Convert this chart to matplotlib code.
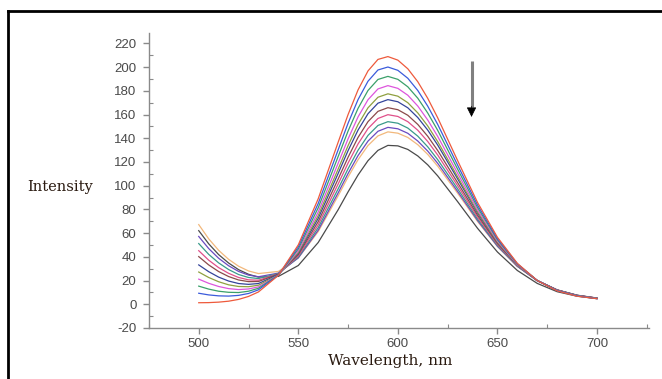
import matplotlib
matplotlib.use("Agg")
import matplotlib.pyplot as plt
from matplotlib.lines import Line2D
from matplotlib.ticker import MultipleLocator

plt.rcParams["axes.unicode_minus"] = False

# wavelength grid (nm) shared by every titration spectrum
wavelength = [500, 505, 510, 515, 520, 525, 530, 540, 550, 560, 570, 575, 580, 585,
              590, 595, 600, 605, 610, 615, 620, 630, 640, 650, 660, 670, 680, 690, 700]

# emission spectra (highest peak first)
spec_01 = [1.3, 1.4, 1.8, 2.6, 4.1, 6.6, 10.4, 24.4, 50.1, 89.0, 136.6, 160.0, 180.8, 196.8,
           206.5, 208.9, 205.9, 198.6, 187.7, 173.7, 157.3, 121.2, 85.9, 56.5, 34.5, 20.0, 11.3, 6.8, 4.7]
spec_02 = [9.3, 7.9, 7.1, 6.9, 7.5, 9.1, 12.2, 24.6, 48.4, 85.0, 130.2, 152.7, 172.6, 188.1,
           197.6, 200.1, 197.3, 190.6, 180.3, 167.1, 151.7, 117.4, 83.7, 55.4, 34.2, 20.0, 11.5, 7.0, 4.7]
spec_03 = [15.3, 12.8, 11.0, 10.1, 9.9, 11.0, 13.5, 24.6, 46.7, 81.4, 124.5, 146.1, 165.2, 180.3,
           189.6, 192.2, 189.7, 183.4, 173.8, 161.3, 146.7, 114.0, 81.7, 54.5, 33.9, 20.0, 11.6, 7.1, 4.8]
spec_04 = [21.2, 17.7, 15.0, 13.2, 12.4, 12.9, 14.7, 24.6, 45.1, 77.8, 118.9, 139.5, 158.0, 172.5,
           181.6, 184.4, 182.1, 176.3, 167.2, 155.4, 141.6, 110.6, 79.7, 53.5, 33.5, 19.9, 11.7, 7.2, 4.9]
spec_05 = [27.2, 22.6, 19.0, 16.4, 15.0, 14.8, 16.1, 24.7, 43.8, 74.8, 114.0, 133.8, 151.6, 165.7,
           174.6, 177.5, 175.5, 170.0, 161.4, 150.4, 137.2, 107.6, 78.0, 52.6, 33.3, 19.9, 11.8, 7.3, 5.0]
spec_06 = [33.2, 27.5, 22.9, 19.6, 17.5, 16.8, 17.5, 25.1, 43.0, 72.5, 110.3, 129.6, 146.9, 160.7,
           169.6, 172.6, 170.8, 165.7, 157.5, 146.9, 134.3, 105.8, 77.0, 52.3, 33.3, 20.1, 11.9, 7.4, 5.1]
spec_07 = [40.2, 33.2, 27.6, 23.4, 20.5, 19.1, 19.2, 25.5, 41.9, 69.7, 105.6, 124.0, 140.7, 154.0,
           162.7, 165.8, 164.1, 159.4, 151.7, 141.7, 129.7, 102.6, 75.2, 51.3, 32.9, 20.0, 12.0, 7.5, 5.1]
spec_08 = [45.2, 37.2, 30.9, 26.1, 22.6, 20.6, 20.3, 25.6, 40.7, 67.0, 101.4, 119.1, 135.2, 148.2,
           156.7, 159.9, 158.4, 154.0, 146.8, 137.3, 125.9, 100.0, 73.6, 50.5, 32.6, 20.0, 12.0, 7.5, 5.2]
spec_09 = [51.2, 42.1, 34.9, 29.3, 25.1, 22.6, 21.7, 25.9, 39.8, 64.6, 97.3, 114.3, 129.9, 142.4,
           150.8, 154.0, 152.7, 148.6, 141.8, 132.8, 122.0, 97.4, 72.0, 49.7, 32.2, 19.9, 12.0, 7.6, 5.2]
spec_10 = [57.2, 47.0, 38.8, 32.5, 27.7, 24.6, 23.2, 26.3, 39.1, 62.5, 93.9, 110.3, 125.4, 137.6,
           145.9, 149.2, 148.0, 144.2, 137.7, 129.2, 118.9, 95.2, 70.7, 49.0, 32.0, 19.9, 12.1, 7.6, 5.2]
spec_11 = [67.2, 55.2, 45.5, 37.9, 32.1, 28.1, 25.9, 27.7, 39.1, 61.3, 91.4, 107.3, 121.9, 133.9,
           142.0, 145.4, 144.3, 140.7, 134.6, 126.4, 116.5, 93.7, 69.9, 48.7, 32.0, 19.9, 12.2, 7.7, 5.3]
spec_12 = [62.1, 51.0, 41.9, 34.8, 29.2, 25.3, 22.9, 23.5, 32.7, 52.1, 79.7, 94.8, 109.0, 121.1,
           129.8, 134.0, 133.6, 130.6, 125.1, 117.6, 108.3, 86.6, 64.1, 44.1, 28.5, 17.6, 10.6, 6.8, 4.8]

y_ticks = list(range(-20, 221, 20))
x_ticks = [500, 550, 600, 650, 700]

colors = ["#ee5a3c", "#3b5bdb", "#3aa06a", "#dd55dd", "#8fa040", "#34449a",
          "#8b4a4a", "#e0508a", "#3a9a8a", "#6a4ac0", "#f2b87c", "#4a4a4a"]
spectra = [spec_01, spec_02, spec_03, spec_04, spec_05, spec_06,
           spec_07, spec_08, spec_09, spec_10, spec_11, spec_12]

fig = plt.figure(figsize=(6.62, 3.79), dpi=100)
ax = fig.add_axes([0.225, 0.1346, 0.755, 0.779])

for values, color in reversed(list(zip(spectra, colors))):
  ax.plot(wavelength, values, color=color, linewidth=0.9, solid_joinstyle="round")

ax.set_xlim(475, 726)
ax.set_ylim(-20, 229)
ax.set_xticks(x_ticks)
ax.set_yticks(y_ticks)
ax.xaxis.set_minor_locator(MultipleLocator(25))
ax.yaxis.set_minor_locator(MultipleLocator(10))

axis_gray = "#8a8a8a"
for side in ["top", "right"]:
  ax.spines[side].set_visible(False)
for side in ["left", "bottom"]:
  ax.spines[side].set_color(axis_gray)
  ax.spines[side].set_linewidth(1.0)

ax.tick_params(axis="both", which="major", direction="out", length=4, width=1.0,
               color=axis_gray, labelcolor="#4a4a4a", labelsize=9.5)
ax.tick_params(axis="both", which="minor", direction="in", length=3, width=0.8, color=axis_gray)
ax.tick_params(axis="y", which="major", pad=5)
ax.tick_params(axis="x", which="major", pad=3)
for label in ax.get_xticklabels() + ax.get_yticklabels():
  label.set_fontfamily("Liberation Sans")

# quenching arrow: gray shaft, black head
ax.plot([637, 637], [205, 166], color="#808080", linewidth=2.2, solid_capstyle="butt")
ax.annotate("", xy=(637, 158), xytext=(637, 167),
            arrowprops=dict(arrowstyle="-|>,head_length=0.6,head_width=0.3",
                            color="black", linewidth=0.5, shrinkA=0, shrinkB=0))

fig.text(0.0906, 0.5066, "Intensity", family="DejaVu Serif", fontsize=10.5,
         color="#2a1a10", ha="center", va="center")
fig.text(0.589, 0.047, "Wavelength, nm", family="DejaVu Serif", fontsize=11,
         color="#2a1a10", ha="center", va="center")

# frame lines from the original screenshot
fig.add_artist(Line2D([0.012, 1.0], [0.971, 0.971], color="black", linewidth=2.0,
                      transform=fig.transFigure))
fig.add_artist(Line2D([0.012, 0.012], [0.0, 0.971], color="black", linewidth=2.0,
                      transform=fig.transFigure))

fig.savefig("out.png", dpi=100)
